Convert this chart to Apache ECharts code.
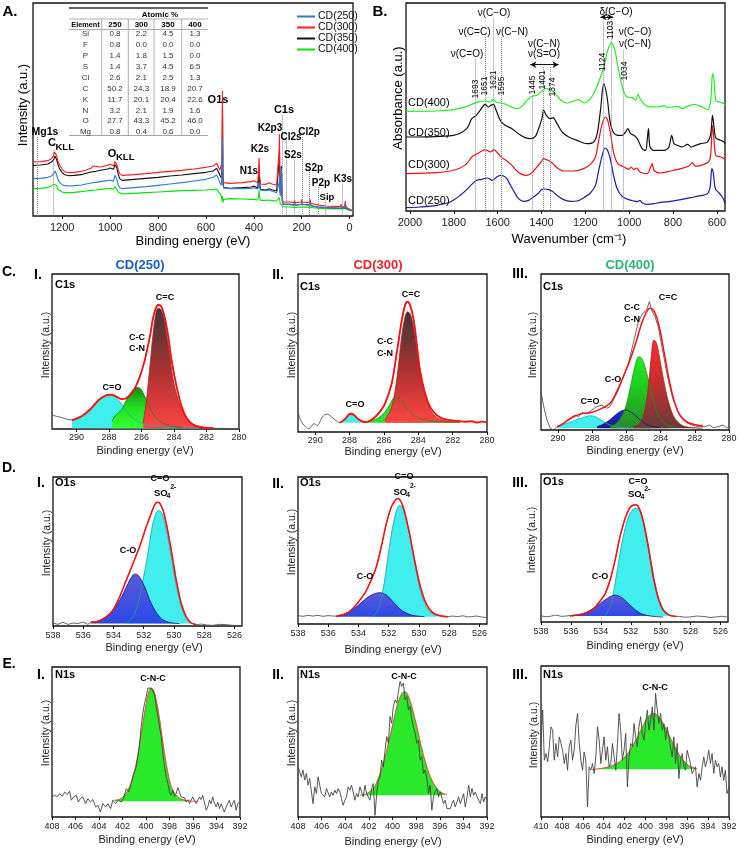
<!DOCTYPE html>
<html><head><meta charset="utf-8">
<script src="https://cdn.jsdelivr.net/npm/echarts@6/dist/echarts.min.js"></script>
<style>html,body{margin:0;padding:0;background:#fff}#c{width:739px;height:850px}</style>
</head><body><div id="c"></div>
<script>
// ================= DATA =================
// Panel A : XPS survey (binding energy eV, intensity a.u.)
const A_cd250 = [[1322,112],[1290,113],[1260,116],[1245,120],[1236,126],[1230,135],[1228,137],[1224,125],[1218,110],[1210,100],[1200,94],[1190,91],[1170,90],[1150,91],[1120,93],[1100,96],[1080,99],[1060,101],[1040,103],[1010,106],[1000,108],[992,110],[986,104],[980,122],[976,127],[972,110],[966,92],[960,85],[950,82],[900,85],[850,88],[800,92],[750,96],[700,100],[650,105],[600,110],[570,116],[562,120],[556,123],[550,115],[542,100],[536,92],[533,130],[531,232],[529,95],[526,85],[520,82],[500,82],[450,82],[410,83],[400,85],[396,87],[392,83],[384,81],[380,90],[378,102],[376,85],[372,78],[350,76],[335,78],[325,75],[305,70],[298,72],[294,100],[293,120],[292,90],[290,60],[287,75],[285,142],[284,120],[283,130],[281,45],[278,35],[270,34],[250,35],[232,33],[230,40],[228,33],[202,35],[200,42],[198,35],[168,33],[165,42],[162,31],[140,28],[132,30],[130,27],[100,25],[60,24],[40,23],[35,29],[33,23],[20,25],[18,38],[16,23],[8,21],[0,18],[-14,15]];
const A_cd300 = [[1322,162],[1290,163],[1260,166],[1245,172],[1236,180],[1232,192],[1228,196],[1224,182],[1218,165],[1210,152],[1200,140],[1190,133],[1170,130],[1150,131],[1120,134],[1100,138],[1080,143],[1072,150],[1066,144],[1040,147],[1010,152],[1000,155],[992,157],[986,151],[980,163],[976,168],[972,155],[966,138],[960,127],[950,122],[900,124],[850,127],[800,131],[750,134],[700,137],[650,141],[600,146],[570,150],[562,156],[556,158],[550,150],[542,138],[536,132],[533,160],[531,375],[529,130],[526,100],[520,97],[500,98],[450,100],[410,103],[400,106],[396,110],[392,104],[384,100],[380,140],[378,174],[376,120],[372,96],[350,95],[335,100],[325,96],[305,93],[298,96],[294,200],[293,245],[292,150],[290,80],[287,90],[285,120],[284,90],[281,55],[278,42],[270,41],[250,42],[232,40],[230,48],[228,40],[202,42],[200,50],[198,42],[168,40],[165,50],[162,38],[140,34],[132,36],[130,33],[100,30],[60,29],[40,28],[35,35],[33,28],[20,30],[18,45],[16,28],[8,25],[0,20],[-14,16]];
const A_cd350 = [[1322,152],[1290,153],[1260,156],[1245,162],[1236,168],[1230,180],[1228,182],[1224,170],[1218,155],[1210,140],[1200,130],[1190,124],[1170,121],[1150,122],[1120,124],[1100,128],[1080,132],[1060,134],[1040,137],[1010,141],[1000,144],[992,146],[986,140],[980,154],[976,158],[972,145],[966,125],[960,112],[950,107],[900,110],[850,113],[800,116],[750,120],[700,123],[650,127],[600,131],[570,135],[562,140],[556,143],[550,136],[542,122],[536,115],[533,140],[531,330],[529,110],[526,85],[520,82],[500,83],[450,85],[410,87],[400,90],[396,93],[392,88],[384,84],[380,110],[378,150],[376,100],[372,80],[350,78],[335,82],[325,79],[305,75],[298,77],[294,170],[293,200],[292,130],[290,70],[287,80],[285,150],[284,80],[281,45],[278,35],[270,34],[250,35],[232,33],[230,40],[228,33],[202,35],[200,42],[198,35],[168,33],[165,42],[162,31],[140,28],[132,30],[130,27],[100,25],[60,24],[40,23],[35,29],[33,23],[20,25],[18,38],[16,23],[8,21],[0,18],[-14,15]];
const A_cd400 = [[1322,82],[1290,83],[1260,86],[1245,90],[1236,95],[1230,100],[1228,101],[1224,92],[1218,80],[1210,74],[1200,72],[1190,70],[1170,70],[1150,71],[1120,73],[1100,75],[1080,77],[1060,78],[1040,80],[1010,82],[1000,83],[992,84],[986,80],[980,88],[976,90],[972,82],[966,72],[960,68],[950,66],[900,68],[850,70],[800,72],[750,74],[700,76],[650,77],[600,78],[570,80],[562,82],[556,81],[550,76],[542,68],[536,60],[533,45],[531,60],[529,40],[526,50],[520,53],[500,52],[450,51],[410,50],[400,50],[396,51],[392,49],[384,48],[380,60],[378,78],[376,55],[372,47],[350,47],[335,48],[325,46],[305,45],[298,45],[294,55],[293,60],[292,50],[290,38],[287,35],[285,42],[284,35],[281,30],[278,28],[270,27],[250,27],[232,26],[230,30],[228,26],[202,27],[200,32],[198,27],[168,26],[165,32],[162,25],[140,24],[132,25],[130,23],[100,22],[60,21],[40,21],[35,25],[33,21],[20,22],[18,30],[16,21],[8,19],[0,17],[-14,14]];
const A_ticks = [0,200,400,600,800,1000,1200];
// dotted peak marker lines [eV, top intensity]
const A_peakLines = [[1304,237],[1238,197],[283,302],[265,227],[231,167],[198,237],[167,132],[130,87],[102,47],[32,97]];
// atomic % table
const tblElements = ['Si','F','P','S','Cl','C','K','N','O','Mg'];
const tblHeads = ['250','300','350','400'];
const atomic250 = [0.8,0.8,1.4,1.4,2.6,50.2,11.7,3.2,27.7,0.8];
const atomic300 = [2.2,0.0,1.8,3.7,2.1,24.3,20.1,2.1,43.3,0.4];
const atomic350 = [4.5,0.0,1.5,4.5,2.5,18.9,20.4,1.9,45.2,0.6];
const atomic400 = [1.3,0.0,0.0,6.5,1.3,20.7,22.6,1.6,46.0,0.0];

// Panel B : FTIR (wavenumber, absorbance a.u.)
const B_cd250 = [[2018,10],[1954,12],[1878,17],[1817,27],[1771,47],[1741,64],[1718,80],[1695,92],[1672,95],[1649,99],[1637,97],[1627,92],[1616,95],[1604,102],[1588,107],[1573,105],[1558,97],[1543,79],[1524,57],[1505,37],[1482,29],[1459,32],[1436,42],[1413,54],[1398,65],[1383,66],[1367,64],[1352,60],[1329,47],[1299,34],[1268,29],[1238,30],[1207,40],[1177,54],[1154,77],[1139,122],[1123,167],[1111,189],[1101,185],[1088,162],[1073,112],[1055,67],[1032,44],[1002,34],[979,30],[963,28],[951,32],[941,25],[918,20],[887,22],[857,26],[811,29],[765,34],[720,40],[674,46],[643,52],[631,72],[623,127],[616,112],[607,67],[590,54],[575,42],[565,27],[563,22]];
const B_cd300 = [[2018,112],[1878,115],[1817,120],[1771,129],[1741,142],[1718,162],[1698,170],[1680,177],[1657,184],[1642,180],[1631,177],[1616,184],[1604,177],[1581,160],[1558,150],[1535,137],[1512,120],[1489,110],[1466,107],[1444,115],[1421,132],[1402,147],[1390,157],[1378,154],[1363,150],[1348,142],[1329,130],[1299,120],[1253,120],[1207,127],[1177,140],[1154,162],[1139,212],[1123,262],[1108,282],[1098,272],[1085,232],[1070,172],[1052,142],[1024,132],[1002,125],[991,132],[979,124],[966,129],[951,117],[918,112],[902,132],[895,142],[887,122],[857,114],[811,120],[765,127],[727,135],[712,145],[697,134],[659,140],[636,149],[628,172],[620,257],[613,212],[605,167],[582,162],[567,157],[563,154]];
const B_cd350 = [[2018,222],[1802,227],[1741,247],[1718,277],[1698,287],[1680,302],[1657,320],[1642,312],[1631,317],[1619,320],[1607,302],[1588,272],[1566,257],[1535,247],[1505,232],[1474,220],[1451,217],[1428,224],[1413,247],[1398,277],[1390,302],[1378,287],[1360,277],[1348,280],[1329,262],[1306,237],[1276,222],[1238,212],[1192,202],[1162,207],[1146,232],[1131,302],[1116,382],[1101,342],[1088,272],[1073,237],[1052,227],[1032,227],[1017,237],[1006,247],[994,232],[979,227],[963,217],[941,187],[925,182],[918,212],[912,247],[905,192],[887,182],[841,182],[819,192],[806,227],[796,202],[780,197],[758,192],[735,200],[716,192],[697,197],[674,202],[643,207],[628,232],[620,287],[613,252],[605,220],[582,212],[567,207],[563,202]];
const B_cd400 = [[2018,299],[1878,300],[1802,304],[1741,314],[1695,326],[1657,330],[1634,327],[1619,335],[1607,327],[1573,322],[1543,314],[1512,307],[1489,314],[1466,332],[1444,344],[1421,347],[1398,360],[1383,367],[1360,364],[1337,352],[1314,334],[1284,324],[1253,330],[1230,334],[1207,324],[1184,332],[1162,352],[1139,387],[1116,432],[1098,482],[1082,505],[1067,487],[1047,417],[1027,362],[1009,342],[986,340],[971,332],[959,350],[951,337],[918,314],[872,312],[841,316],[826,310],[803,312],[780,314],[758,307],[735,314],[704,320],[674,314],[643,304],[628,332],[620,412],[613,392],[605,332],[590,327],[567,322],[563,317]];
const B_ticks = [600,800,1000,1200,1400,1600,1800,2000];
// dotted band lines [wavenumber position, top absorbance]
const B_lines = [[1701,457],[1657,522],[1619,577],[1584,522],[1441,347],[1393,432],[1360,432],[1119,575],[1082,575],[1029,482]];
const B_lineLabels = ['1693','1651','1621','1595','1445','1401','1374','1124','1103','1034'];
// double arrows [from, to, level]
const B_arrows = [[1451,1322,439],[1131,1073,582]];

// Panel C : C1s high resolution (eV, intensity)
const C_ticks = [290,288,286,284,282,280];
const C1_raw = [[291.5,9.2],[291.23,8.2],[290.93,7.5],[290.62,6.4],[290.27,5.8],[289.69,8.0],[289.18,12.6],[288.56,19.0],[287.95,22.3],[287.64,21.2],[287.23,19.6],[286.92,19.8],[286.51,24.5],[286.10,33.5],[285.79,44.9],[285.48,59.4],[285.24,74.0],[284.97,80.5],[284.77,78.6],[284.56,71.8],[284.35,59.2],[284.15,45.0],[283.84,27.2],[283.53,14.9],[283.22,6.8],[282.81,3.0],[282.20,1.0],[281.58,0.5],[281.0,0.4],[280.5,0.3],[280.0,0.3]];
const C1_env = [[290.27,5.6],[289.69,8.2],[289.18,12.4],[288.56,19.3],[287.95,22.1],[287.64,21.5],[287.23,19.3],[286.92,20.0],[286.51,24.2],[286.10,33.9],[285.79,44.6],[285.48,59.7],[285.24,73.6],[284.97,80.0],[284.77,79.0],[284.56,71.5],[284.35,59.7],[284.15,44.6],[283.84,27.5],[283.53,14.6],[283.22,7.1],[282.81,2.8],[282.20,1.1],[281.58,0.6]];
const C1_CO = [[290.27,5.6],[289.69,7.7],[289.18,11.4],[288.67,17.8],[288.26,21.5],[287.95,22.3],[287.64,21.0],[287.23,16.3],[286.82,10.3],[286.41,6.0],[285.89,3.4],[285.28,2.1],[284.05,1.1],[282.40,0.5]];
const C1_CN = [[287.8,5.0],[287.64,8.2],[287.23,12.4],[286.92,18.9],[286.61,24.2],[286.30,26.8],[286.10,26.4],[285.79,21.0],[285.48,13.5],[285.18,8.2],[284.87,4.9],[284.46,2.8],[284.05,1.7],[283.5,0.8]];
const C1_CC = [[285.89,3.9],[285.69,18.9],[285.48,40.3],[285.28,61.8],[285.07,76.8],[284.91,77.9],[284.66,73.6],[284.46,61.8],[284.25,46.8],[284.05,31.8],[283.74,18.9],[283.43,10.3],[283.02,3.9],[282.40,1.1],[281.58,0.5]];

const C2_raw = [[291.0,12.7],[290.84,7.4],[290.65,4.2],[290.36,2.1],[290.07,5.3],[289.87,4.2],[289.58,9.5],[289.30,11.4],[289.10,10.0],[288.81,7.4],[288.57,5.9],[288.27,8.5],[288.08,11.0],[287.92,11.8],[287.73,10.5],[287.50,8.0],[287.20,6.3],[287.01,6.5],[286.62,8.2],[286.33,11.0],[285.94,17.5],[285.55,30.0],[285.26,49.0],[284.96,70.0],[284.77,79.5],[284.63,82.0],[284.48,80.0],[284.28,71.0],[284.09,55.5],[283.90,39.0],[283.60,24.0],[283.31,16.0],[282.92,10.5],[282.43,8.2],[281.65,6.8]];
const C2_env = [[288.57,5.9],[288.27,8.0],[288.08,10.6],[287.92,11.4],[287.73,10.8],[287.50,8.2],[287.20,6.5],[287.01,6.3],[286.62,8.5],[286.33,11.6],[285.94,18.0],[285.55,30.7],[285.26,49.7],[284.96,70.8],[284.77,80.3],[284.63,82.5],[284.48,80.3],[284.28,71.9],[284.09,56.0],[283.90,39.1],[283.60,24.3],[283.31,15.9],[282.92,10.6],[282.43,8.0],[281.65,7.0],[281.30,6.5],[280.88,6.8],[280.60,6.0],[280.30,6.6],[280.0,6.3]];
const C2_CO = [[288.57,5.9],[288.27,8.5],[288.08,11.2],[287.92,12.1],[287.73,11.0],[287.50,8.5],[287.20,6.3],[287.01,5.9]];
const C2_CN = [[287.20,5.9],[286.62,7.4],[286.13,10.6],[285.74,15.9],[285.35,21.8],[285.06,21.1],[284.77,16.9],[284.38,11.6],[283.89,8.5],[283.21,7.0],[282.43,6.3],[281.56,5.9]];
const C2_CC = [[285.94,7.4],[285.55,15.9],[285.26,32.8],[284.97,60.3],[284.77,72.9],[284.62,76.1],[284.44,74.0],[284.25,64.5],[284.05,49.7],[283.80,32.8],[283.51,20.1],[283.22,12.7],[282.83,8.5],[282.25,6.8],[281.56,6.3]];

const C3_raw = [[291.00,24.6],[290.84,15.0],[290.65,6.4],[290.46,1.1],[290.26,0.0],[290.07,2.1],[289.87,2.6],[289.58,5.3],[289.29,7.5],[289.00,9.6],[288.80,8.5],[288.61,11.1],[288.32,10.3],[288.03,12.8],[287.73,15.0],[287.44,16.0],[287.15,13.9],[286.96,15.0],[286.76,19.2],[286.47,25.6],[286.18,34.2],[285.89,42.7],[285.60,55.6],[285.31,69.4],[285.05,74.8],[284.82,76.9],[284.66,82.3],[284.53,76.9],[284.33,72.6],[284.14,66.2],[283.85,49.1],[283.56,32.1],[283.26,19.2],[282.88,9.6],[282.49,4.7],[282.10,2.8],[281.71,2.1],[281.42,2.1],[281.13,3.2],[280.93,1.5],[280.64,2.1],[280.35,3.2],[280.15,1.5],[280.00,2.1]];
const C3_env = [[290.07,2.1],[289.68,4.3],[289.10,8.5],[288.51,10.7],[288.12,11.1],[287.73,12.4],[287.35,14.3],[286.96,17.1],[286.57,24.6],[286.18,34.2],[285.79,44.9],[285.40,57.7],[285.11,68.4],[284.82,75.9],[284.62,78.0],[284.43,76.9],[284.24,72.6],[284.04,64.1],[283.75,47.0],[283.46,29.9],[283.17,17.1],[282.88,9.6],[282.49,5.3],[281.90,3.2],[281.52,2.6]];
const C3_CO = [[290.07,2.1],[289.48,4.3],[288.90,6.8],[288.41,8.5],[288.12,9.2],[287.73,8.1],[287.35,5.3],[286.96,3.2],[286.37,1.7],[285.60,1.1]];
const C3_COs = [[287.73,2.1],[287.25,4.3],[286.76,8.5],[286.37,11.8],[286.08,12.8],[285.79,11.8],[285.40,8.5],[285.01,4.7],[284.62,2.6],[284.04,1.5]];
const C3_CN = [[286.96,2.1],[286.57,4.3],[286.18,10.7],[285.89,21.4],[285.60,36.3],[285.40,44.9],[285.27,47.0],[285.11,45.9],[284.92,40.6],[284.62,27.8],[284.33,15.0],[284.04,7.5],[283.65,3.2],[283.07,1.5]];
const C3_CC = [[285.60,2.1],[285.21,4.3],[284.92,12.8],[284.72,27.8],[284.53,49.1],[284.39,57.7],[284.24,55.6],[284.04,44.9],[283.75,27.8],[283.46,15.0],[283.17,7.5],[282.78,3.2],[282.29,1.7],[281.52,1.1]];

// Panel D : O1s
const D_ticks = [538,536,534,532,530,528,526];
const D1_raw = [[538.00,2.0],[537.67,1.1],[537.34,2.5],[537.01,1.1],[536.68,2.0],[536.35,1.6],[536.02,2.7],[535.69,1.1],[535.47,2.7],[534.92,3.4],[534.48,6.1],[534.04,10.6],[533.59,19.6],[533.15,30.8],[532.71,42.0],[532.27,53.3],[531.83,66.7],[531.50,75.7],[531.28,81.3],[531.13,83.1],[530.95,82.5],[530.73,78.0],[530.51,69.0],[530.18,51.0],[529.85,30.8],[529.52,15.1],[529.19,6.1],[528.86,2.0],[528.53,0.9],[528.2,1.3],[527.8,0.6],[527.43,0.4],[527.0,1.1],[526.55,0.9],[526.1,0.4],[525.51,0.4]];
const D1_env = [[535.47,2.7],[534.92,3.4],[534.48,6.1],[534.04,10.6],[533.59,19.6],[533.15,30.8],[532.71,42.0],[532.27,53.3],[531.83,66.7],[531.50,75.7],[531.28,81.3],[531.13,83.1],[530.95,82.5],[530.73,78.0],[530.51,69.0],[530.18,51.0],[529.85,30.8],[529.52,15.1],[529.19,6.1],[528.86,2.0],[528.53,0.9]];
const D1_CO = [[533.15,2.0],[532.71,6.1],[532.38,15.1],[532.05,30.8],[531.72,48.8],[531.44,66.7],[531.17,76.2],[531.00,77.5],[530.80,75.7],[530.58,67.9],[530.29,53.3],[529.96,33.0],[529.63,17.3],[529.30,7.2],[528.97,2.7],[528.53,1.1]];
const D1_Cs = [[535.47,2.0],[534.92,3.8],[534.26,8.3],[533.59,17.3],[533.04,28.5],[532.71,34.2],[532.54,34.8],[532.32,33.5],[531.94,26.3],[531.50,15.1],[530.95,6.1],[530.40,2.7],[529.63,1.6]];

const D2_raw = [[538.00,5.7],[537.67,5.2],[537.34,5.9],[537.01,5.4],[536.68,5.9],[536.35,5.2],[536.02,5.7],[535.69,5.4],[535.47,5.4],[534.92,6.8],[534.48,9.3],[534.04,14.8],[533.59,20.5],[533.15,30.2],[532.82,38.6],[532.49,52.8],[532.16,68.0],[531.83,79.9],[531.57,84.0],[531.39,85.6],[531.17,82.7],[530.95,76.5],[530.62,61.2],[530.29,43.7],[529.96,27.3],[529.63,16.6],[529.30,9.8],[528.97,7.0],[528.53,5.4],[528.09,5.0],[527.76,5.4],[527.43,5.0],[527.1,5.6],[526.77,4.8],[526.55,5.0],[526.2,5.4],[525.85,4.7],[525.51,4.5]];
const D2_env = [[535.47,5.4],[534.92,6.6],[534.48,9.5],[534.04,14.5],[533.59,20.8],[533.15,29.9],[532.82,38.9],[532.49,52.5],[532.16,68.3],[531.83,79.6],[531.57,84.2],[531.39,85.3],[531.17,83.0],[530.95,76.2],[530.62,61.5],[530.29,43.4],[529.96,27.6],[529.63,16.3],[529.30,10.0],[528.97,6.8],[528.53,5.4],[528.09,5.0]];
const D2_CO = [[533.04,5.4],[532.71,9.5],[532.38,23.1],[532.05,45.7],[531.72,67.2],[531.44,78.5],[531.28,80.8],[531.06,78.5],[530.73,66.1],[530.40,48.0],[530.07,29.9],[529.74,17.4],[529.41,10.0],[528.97,6.6],[528.53,5.4]];
const D2_Cs = [[535.47,5.0],[534.92,6.8],[534.26,10.6],[533.70,15.6],[533.15,19.7],[532.60,21.3],[532.16,19.7],[531.72,15.2],[531.17,9.5],[530.51,6.1],[529.63,5.0]];

const D3_raw = [[538.00,4.1],[537.67,3.6],[537.38,3.8],[537.10,4.6],[536.93,4.5],[536.60,3.8],[536.27,4.1],[535.94,4.5],[535.38,5.2],[534.94,6.3],[534.49,8.8],[534.05,14.3],[533.71,19.0],[533.38,28.5],[533.05,41.5],[532.72,57.9],[532.38,69.7],[532.09,77.0],[531.83,78.7],[531.61,79.3],[531.38,75.3],[531.16,68.0],[530.83,50.5],[530.50,30.8],[530.16,15.5],[529.83,8.1],[529.39,4.3],[528.94,3.8],[528.72,3.8],[528.40,3.2],[528.05,3.4],[527.60,4.0],[527.17,3.8],[526.70,3.1],[526.28,3.4],[525.90,3.9],[525.50,3.2]];
const D3_env = [[536.05,4.1],[535.38,5.0],[534.94,6.1],[534.49,9.0],[534.05,14.0],[533.71,19.2],[533.38,28.2],[533.05,41.8],[532.72,57.6],[532.38,70.0],[532.09,76.7],[531.83,79.0],[531.61,79.0],[531.38,75.6],[531.16,67.7],[530.83,50.8],[530.50,30.5],[530.16,15.8],[529.83,7.9],[529.39,4.5],[528.94,3.8]];
const D3_CO = [[533.71,4.5],[533.38,10.2],[533.05,26.0],[532.72,46.3],[532.38,63.2],[532.05,73.4],[531.72,76.7],[531.49,76.3],[531.27,72.2],[530.94,58.7],[530.61,39.5],[530.27,21.4],[529.94,11.3],[529.61,6.1],[529.16,4.1]];
const D3_Cs = [[536.05,4.1],[535.38,5.0],[534.71,7.9],[534.05,12.4],[533.49,16.5],[533.05,18.1],[532.60,16.5],[532.05,11.3],[531.38,6.1],[530.72,4.1],[529.83,3.4]];

// Panel E : N1s
const E_ticks = [408,406,404,402,400,398,396,394,392];
const E3_ticks = [410,408,406,404,402,400,398,396,394,392];
const E1_raw = [[408.00,13.4],[407.77,14.5],[407.58,13.4],[407.35,15.6],[407.12,13.8],[406.92,16.7],[406.73,15.0],[406.50,17.2],[406.36,11.2],[406.16,13.4],[405.93,14.5],[405.76,10.0],[405.59,12.3],[405.37,13.4],[405.14,8.9],[404.94,12.3],[404.74,10.0],[404.52,11.6],[404.29,6.7],[404.09,7.8],[403.89,3.3],[403.67,8.9],[403.44,6.7],[403.24,8.9],[403.01,5.6],[402.82,11.2],[402.59,8.9],[402.36,11.2],[402.11,10.0],[401.91,12.3],[401.68,19.0],[401.48,16.7],[401.26,22.3],[401.12,26.8],[400.97,27.9],[400.83,33.5],[400.69,40.2],[400.55,49.1],[400.41,60.3],[400.27,69.2],[400.12,75.9],[399.98,80.4],[399.84,85.9],[399.70,87.1],[399.56,85.9],[399.42,83.7],[399.27,81.5],[399.13,73.7],[398.99,67.0],[398.85,60.3],[398.71,53.6],[398.57,42.4],[398.42,33.5],[398.28,26.8],[398.14,22.3],[398.00,16.7],[397.86,14.5],[397.72,17.9],[397.58,13.8],[397.43,15.6],[397.29,19.6],[397.15,16.7],[397.01,13.4],[396.87,14.5],[396.73,12.9],[396.58,10.0],[396.44,11.6],[396.30,8.9],[396.16,10.0],[396.02,13.4],[395.88,11.2],[395.73,8.9],[395.59,7.8],[395.45,13.4],[395.31,11.6],[395.17,14.5],[395.03,10.0],[394.88,4.5],[394.74,6.7],[394.60,11.2],[394.46,8.9],[394.32,13.4],[394.18,9.4],[394.03,6.7],[393.89,10.0],[393.75,5.6],[393.61,8.9],[393.47,7.8],[393.33,3.3],[393.18,6.7],[393.04,5.6],[392.90,11.2],[392.76,6.7],[392.62,7.8],[392.48,11.2],[392.33,4.5],[392.19,8.9],[392.00,10.0]];
const E1_fit = [[402.67,11.2],[402.25,11.8],[401.82,14.5],[401.40,20.1],[401.12,26.8],[400.83,35.7],[400.55,48.0],[400.27,62.5],[399.98,75.9],[399.76,83.7],[399.56,85.9],[399.36,84.8],[399.13,78.1],[398.85,65.8],[398.57,50.2],[398.28,35.7],[398.00,24.6],[397.72,17.9],[397.29,13.4],[396.87,11.6],[396.30,10.7],[395.59,10.5]];
const E2_eV = [408.00,407.86,407.72,407.58,407.43,407.29,407.15,407.01,406.87,406.73,406.58,406.44,406.30,406.16,406.02,405.88,405.73,405.59,405.45,405.31,405.17,405.03,404.88,404.74,404.60,404.46,404.32,404.18,404.03,403.89,403.75,403.61,403.47,403.33,403.18,403.04,402.90,402.76,402.62,402.48,402.33,402.19,402.05,401.91,401.77,401.63,401.48,401.34,401.20,401.06,400.92,400.78,400.63,400.49,400.35,400.21,400.07,399.93,399.78,399.64,399.50,399.36,399.22,399.08,398.93,398.79,398.65,398.51,398.37,398.23,398.08,397.94,397.80,397.66,397.52,397.38,397.24,397.09,396.95,396.81,396.67,396.53,396.39,396.24,396.10,395.96,395.82,395.68,395.54,395.39,395.25,395.11,394.97,394.83,394.69,394.54,394.40,394.26,394.12,393.98,393.84,393.69,393.55,393.41,393.27,393.13,392.99,392.84,392.70,392.56,392.42,392.28,392.14,392.00];
const E2_I = [33.5,30.1,26.8,31.3,24.6,29.0,21.2,25.7,24.6,8.9,20.1,15.6,26.8,25.7,15.6,16.7,13.4,19.0,17.9,13.4,16.7,14.5,17.9,15.6,19.0,16.7,12.3,7.8,11.2,13.4,20.1,17.9,21.2,16.7,11.2,15.6,13.4,20.1,16.7,13.4,21.2,15.6,16.7,11.2,19.0,22.3,1.1,15.6,24.6,26.8,37.9,33.5,44.6,53.6,49.1,67.0,62.5,73.7,78.1,75.9,83.7,90.4,87.1,89.3,78.1,80.4,71.4,73.7,64.7,60.3,55.8,49.1,51.3,37.9,40.2,29.0,31.3,25.7,15.6,21.2,4.5,13.4,16.7,19.0,13.4,16.7,15.6,8.9,11.2,5.6,4.5,5.6,8.9,11.2,6.7,10.0,13.4,8.9,10.0,15.6,6.7,13.4,21.2,13.4,19.0,14.5,16.7,13.4,12.3,8.9,15.6,10.0,13.4,11.2];
const E2_fit = [[402.76,14.5],[402.19,15.6],[401.63,19.0],[401.20,25.7],[400.78,35.7],[400.35,49.1],[399.93,63.6],[399.56,75.9],[399.22,82.1],[398.99,83.7],[398.74,82.1],[398.37,73.7],[397.94,60.3],[397.52,45.8],[397.09,33.5],[396.67,24.6],[396.24,19.0],[395.82,16.1],[395.39,15.0]];
const E3_eV = [410.00,409.84,409.68,409.52,409.36,409.20,409.05,408.89,408.73,408.57,408.41,408.25,408.09,407.93,407.77,407.61,407.46,407.30,407.14,406.98,406.82,406.66,406.50,406.34,406.18,406.02,405.87,405.71,405.55,405.39,405.23,405.07,404.91,404.75,404.59,404.43,404.27,404.12,403.96,403.80,403.64,403.48,403.32,403.16,403.00,402.84,402.68,402.53,402.37,402.21,402.05,401.89,401.73,401.57,401.41,401.25,401.09,400.94,400.78,400.62,400.46,400.30,400.14,399.98,399.82,399.66,399.50,399.34,399.19,399.03,398.87,398.71,398.55,398.39,398.23,398.07,397.91,397.75,397.60,397.44,397.28,397.12,396.96,396.80,396.64,396.48,396.32,396.16,396.01,395.85,395.69,395.53,395.37,395.21,395.05,394.89,394.73,394.57,394.41,394.26,394.10,393.94,393.78,393.62,393.46,393.30,393.14,392.98,392.82,392.67,392.51,392.35,392.19,392.00];
const E3_I = [48.7,70.8,37.6,42.0,36.5,46.5,59.7,57.5,37.6,48.7,39.8,53.1,48.7,44.2,35.4,42.0,31.0,46.5,50.9,37.6,44.2,60.8,68.6,48.7,37.6,31.0,43.1,37.6,6.6,33.2,31.0,35.4,28.8,39.8,59.7,50.9,35.4,44.2,53.1,37.6,46.5,33.2,35.4,48.7,39.8,31.0,48.7,68.6,57.5,37.6,44.2,55.3,19.9,39.8,48.7,46.5,61.9,53.1,46.5,59.7,66.4,55.3,50.9,61.9,70.8,57.5,64.2,73.0,57.5,81.9,70.8,61.9,68.6,57.5,61.9,50.9,59.7,53.1,46.5,39.8,53.1,35.4,48.7,25.4,37.6,42.0,33.2,31.0,44.2,39.8,35.4,28.8,31.0,33.2,19.9,28.8,24.3,33.2,39.8,33.2,37.6,44.2,35.4,42.0,28.8,37.6,33.2,35.4,26.5,33.2,24.3,31.0,15.5,19.9];
const E3_fit = [[405.13,31.4],[404.34,32.1],[403.54,33.2],[402.75,35.4],[402.11,38.7],[401.48,44.2],[400.84,52.0],[400.20,60.8],[399.73,66.4],[399.19,68.6],[398.77,66.8],[398.30,61.9],[397.66,53.1],[397.02,44.2],[396.39,37.6],[395.75,33.6],[395.05,32.1]];

// ================= BUILD =================
const FONT = "'Liberation Sans', Arial, sans-serif";
const pairs = (xs, ys) => xs.map((x, i) => [x, ys[i]]);
const grids = [], xAxes = [], yAxes = [], series = [], G = [];

function panel(box, xr, yr, ticks, fs, margin) {
  const i = grids.length;
  grids.push({left: box[0], top: box[1], width: box[2], height: box[3], show: true,
    borderColor: '#111', borderWidth: 1.3, backgroundColor: 'rgba(0,0,0,0)', outerBoundsMode: 'none', containLabel: false});
  xAxes.push({gridIndex: i, type: 'value', min: xr[0], max: xr[1], inverse: true,
    axisLine: {show: false}, splitLine: {show: false},
    axisTick: {show: true, inside: false, length: 3, customValues: ticks, lineStyle: {color: '#111', width: 1}},
    axisLabel: {show: true, customValues: ticks, fontSize: fs, color: '#222', margin: margin, fontFamily: FONT,
      formatter: v => String(v), hideOverlap: false, showMinLabel: true, showMaxLabel: true}});
  yAxes.push({gridIndex: i, type: 'value', min: yr[0], max: yr[1],
    axisLine: {show: false}, axisTick: {show: false}, axisLabel: {show: false}, splitLine: {show: false}});
  return i;
}
function line(i, data, color, width, extra) {
  series.push(Object.assign({type: 'line', xAxisIndex: i, yAxisIndex: i, data: data, symbol: 'none', showSymbol: false,
    lineStyle: {color: color, width: width}, itemStyle: {color: color}, animation: false, silent: true}, extra || {}));
}
function area(i, data, fill, edge, origin, smooth) {
  line(i, data, edge, 0.8, {smooth: smooth === undefined ? 0.35 : smooth, areaStyle: {color: fill, opacity: 1, origin: origin}});
}
const grad = (stops) => new echarts.graphic.LinearGradient(0, 0, 0, 1, stops.map((c, k) => ({offset: k / (stops.length - 1), color: c})));

function T(x, y, text, size, o) {
  o = o || {};
  G.push({type: 'text', x: x, y: y, rotation: o.rot || 0, silent: true, z: 100,
    style: {text: text, fontSize: size, fontFamily: FONT, fontWeight: o.bold ? 'bold' : 'normal', fill: o.color || '#000',
      align: o.align || 'center', verticalAlign: 'middle', textAlign: o.align || 'center', textVerticalAlign: 'middle'}});
}
function L(x1, y1, x2, y2, color, w) {
  G.push({type: 'line', silent: true, z: 100, shape: {x1: x1, y1: y1, x2: x2, y2: y2}, style: {stroke: color, lineWidth: w}});
}

// ---- Panel A
const iA = panel([33, 3, 320, 213], [-14, 1322], [0, 639], A_ticks, 11, 6);
line(iA, A_cd400, '#00e600', 1.1, {name: 'CD(400)', markLine: {silent: true, symbol: ['none', 'none'], label: {show: false},
  lineStyle: {type: 'dotted', color: '#8a8a8a', width: 1}, animation: false,
  data: A_peakLines.map(p => [{coord: [p[0], p[1]]}, {coord: [p[0], 0]}])}});
line(iA, A_cd350, '#111111', 1.1, {name: 'CD(350)'});
line(iA, A_cd300, '#ff1a1a', 1.1, {name: 'CD(300)'});
line(iA, A_cd250, '#2b7bd6', 1.1, {name: 'CD(250)'});

// ---- Panel B
const iB = panel([406, 3, 319, 208], [563, 2018], [0, 624], B_ticks, 11, 6);
line(iB, B_cd250, '#1a1aa8', 1.2, {name: 'B250', smooth: 0.3, markLine: {silent: true, symbol: ['none', 'none'], label: {show: false},
  lineStyle: {type: 'dotted', color: '#8a8aa8', width: 1}, animation: false,
  data: B_lines.map(p => [{coord: [p[0], p[1]]}, {coord: [p[0], 0]}])}});
line(iB, B_cd300, '#ee1111', 1.2, {name: 'B300', smooth: 0.3});
line(iB, B_cd350, '#111111', 1.2, {name: 'B350', smooth: 0.3});
line(iB, B_cd400, '#22ee22', 1.2, {name: 'B400', smooth: 0.3, markLine: {silent: true, symbol: ['arrow', 'arrow'], symbolSize: [5, 6], label: {show: false},
  lineStyle: {type: 'solid', color: '#111', width: 1}, animation: false,
  data: B_arrows.map(a => [{coord: [a[0], a[2]]}, {coord: [a[1], a[2]]}])}});

// ---- Panel C
const redGrad = () => grad(['#3a3a3a', '#a83030', '#ff4444']);
const greenGrad = () => grad(['#168a16', '#22e022', '#33ff33']);
const iC1 = panel([52, 274, 187, 155], [280, 291.5], [0, 100], C_ticks, 9, 4);
area(iC1, C1_CO, '#40eeee', '#20b0b0', 0.5);
area(iC1, C1_CN, greenGrad(), '#118811', 0.5);
area(iC1, C1_CC, redGrad(), '#aa2222', 0.5);
line(iC1, C1_raw, '#555', 0.9, {smooth: 0.3});
line(iC1, C1_env, '#ff1010', 1.8, {smooth: 0.35});

const iC2 = panel([298, 274, 189, 158], [280, 291], [0, 100], C_ticks, 9, 4);
area(iC2, C2_CO, '#40eeee', '#20b0b0', 5.9);
area(iC2, C2_CN, '#2ae02a', '#119911', 5.9);
area(iC2, C2_CC, redGrad(), '#aa2222', 5.9);
line(iC2, C2_raw, '#555', 0.9, {smooth: 0.3});
line(iC2, C2_env, '#ff1010', 1.8, {smooth: 0.35});

const iC3 = panel([541, 274, 188, 156], [280, 291], [0, 100], C_ticks, 9, 4);
area(iC3, C3_CO, '#40eeee', '#20b0b0', 1.1);
area(iC3, C3_COs, grad(['#2a2ad8', '#1a1a90']), '#101080', 1.1);
area(iC3, C3_CN, grad(['#22ee22', '#1fc41f', '#2a8a2a']), '#119911', 1.1);
area(iC3, C3_CC, grad(['#ff2a2a', '#c03030', '#6a3a3a']), '#aa2222', 1.1);
line(iC3, C3_raw, '#555', 0.9, {smooth: false});
line(iC3, C3_env, '#ff1010', 1.5, {smooth: 0.35});

// ---- Panel D
const blueGrad = () => grad(['#5a5ad8', '#2a48e8']);
const iD1 = panel([53, 477, 189, 149], [525.5, 538], [0, 100], D_ticks, 9, 5);
area(iD1, D1_CO, '#40eeee', '#20a0a0', 1.6);
area(iD1, D1_Cs, blueGrad(), '#101080', 1.6);
line(iD1, D1_raw, '#555', 0.9, {smooth: false});
line(iD1, D1_env, '#ff1010', 1.5, {smooth: 0.35});

const iD2 = panel([298, 477, 189, 147], [525.5, 538], [0, 100], D_ticks, 9, 5);
area(iD2, D2_CO, '#40eeee', '#20a0a0', 5);
area(iD2, D2_Cs, blueGrad(), '#101080', 5);
line(iD2, D2_raw, '#555', 0.9, {smooth: false});
line(iD2, D2_env, '#ff1010', 1.5, {smooth: 0.35});

const iD3 = panel([541, 474, 187, 148], [525.5, 538], [0, 100], D_ticks, 9, 5);
area(iD3, D3_CO, '#40eeee', '#20a0a0', 4);
area(iD3, D3_Cs, blueGrad(), '#101080', 4);
line(iD3, D3_raw, '#555', 0.9, {smooth: false});
line(iD3, D3_env, '#ff1010', 1.5, {smooth: 0.35});

// ---- Panel E
const iE1 = panel([52, 667, 188, 150], [392, 408], [0, 100], E_ticks, 9, 5);
area(iE1, E1_fit, '#2ae82a', '#ff2020', 10.5);
line(iE1, E1_raw, '#444', 0.9, {smooth: false});
const iE2 = panel([298, 667, 189, 150], [392, 408], [0, 100], E_ticks, 9, 5);
area(iE2, E2_fit, '#2ae82a', '#ff2020', 14.5);
line(iE2, pairs(E2_eV, E2_I), '#444', 0.9, {smooth: false});
const iE3 = panel([541, 666, 188, 151], [392, 410], [0, 100], E3_ticks, 9, 5);
area(iE3, E3_fit, '#2ae82a', '#ff2020', 31.6);
line(iE3, pairs(E3_eV, E3_I), '#444', 0.9, {smooth: false});

// ================= TEXT =================
// panel letters
T(10, 12, 'A.', 15, {bold: true}); T(380, 12, 'B.', 15, {bold: true});
T(9, 272, 'C.', 14, {bold: true}); T(9, 468, 'D.', 14, {bold: true}); T(9, 664, 'E.', 14, {bold: true});
// A axis titles
T(23, 105, 'Intensity (a.u.)', 13, {rot: Math.PI / 2});
T(193, 241, 'Binding energy (eV)', 13);
// A peak labels
T(45, 132, 'Mg1s', 10.5, {bold: true});
T(52, 143, 'C', 11, {bold: true}); T(55.5, 147, 'KLL', 9.5, {bold: true, align: 'left'});
T(112, 154, 'O', 11, {bold: true}); T(116, 157.5, 'KLL', 9.5, {bold: true, align: 'left'});
T(218, 100, 'O1s', 11, {bold: true});
T(284, 110, 'C1s', 11, {bold: true});
T(270, 128, 'K2p3', 10, {bold: true});
T(260, 149, 'K2s', 10, {bold: true});
T(291, 137, 'Cl2s', 10, {bold: true});
T(309, 132, 'Cl2p', 10, {bold: true});
T(293, 155, 'S2s', 10, {bold: true});
T(314, 168, 'S2p', 10, {bold: true});
T(249, 171, 'N1s', 10, {bold: true});
T(321, 183, 'P2p', 10, {bold: true});
T(327, 197, 'Sip', 9.5, {bold: true});
T(343, 179, 'K3s', 10, {bold: true});
// A table
L(69, 8, 208, 8, '#333', 1.4);
T(160, 14.5, 'Atomic %', 8, {bold: true});
L(69, 19, 208, 19, '#999', 0.8);
T(85.5, 25, 'Element', 7.3, {bold: true});
const colX = [115, 141.3, 168, 195];
tblHeads.forEach((h, k) => T(colX[k], 25, h, 8, {bold: true}));
L(69, 29.5, 208, 29.5, '#999', 0.8);
[101.7, 128.3, 154, 181.7].forEach(x => L(x, 19, x, 135.5, '#999', 0.8));
L(69, 135.5, 208, 135.5, '#999', 0.9);
const tblCols = [atomic250, atomic300, atomic350, atomic400];
tblElements.forEach((e, r) => {
  const y = 34 + r * 10.9;
  T(85.5, y, e, 8, {color: '#333'});
  tblCols.forEach((col, k) => T(colX[k], y, col[r].toFixed(1), 8, {color: '#333'}));
});

// B axis titles, labels
T(398, 98, 'Absorbance (a.u.)', 13, {rot: Math.PI / 2});
T(569, 239, 'Wavenumber (cm\u207B\u00B9)', 13);
T(408, 103, 'CD(400)', 11, {align: 'left'});
T(408, 133, 'CD(350)', 11, {align: 'left'});
T(408, 165, 'CD(300)', 11, {align: 'left'});
T(408, 201, 'CD(250)', 11, {align: 'left'});
T(467, 54, '\u03BD(C=O)', 10);
T(474.5, 32, '\u03BD(C=C)', 10);
T(494, 13, '\u03BD(C\u2212O)', 10);
T(512, 32, '\u03BD(C\u2212N)', 10);
T(544, 44, '\u03BD(C\u2212N)', 10);
T(544, 54.5, '\u03BD(S=O)', 10);
T(616, 12, '\u03B4(C\u2212O)', 10);
T(635, 32, '\u03BD(C\u2212O)', 10);
T(635, 44, '\u03BD(C\u2212N)', 10);
const B_labelPos = [[475.3, 89], [485, 86], [494, 80], [502, 86], [532.3, 85], [542.7, 80], [552.3, 87], [602.3, 62], [611, 30], [624.3, 71]];
B_lineLabels.forEach((s, k) => T(B_labelPos[k][0], B_labelPos[k][1], s, 8.5, {rot: Math.PI / 2}));

// C row
T(140, 265, 'CD(250)', 13, {bold: true, color: '#1a5fc4'});
T(378, 265, 'CD(300)', 13, {bold: true, color: '#e4262c'});
T(630, 265, 'CD(400)', 13, {bold: true, color: '#2bb673'});
[[38, 275, 'I.'], [278, 275, 'II.'], [520, 274, 'III.'], [41, 483, 'I.'], [278, 484, 'II.'], [520, 483, 'III.'], [41, 675, 'I.'], [278, 675, 'II.'], [520, 675, 'III.']]
  .forEach(r => T(r[0], r[1], r[2], 14, {bold: true}));
[[55, 285, 'C1s'], [300, 287, 'C1s'], [543, 287, 'C1s'], [55, 483, 'O1s'], [300, 483, 'O1s'], [543, 482, 'O1s'], [55, 675, 'N1s'], [300, 675, 'N1s'], [543, 675, 'N1s']]
  .forEach(r => T(r[0], r[1], r[2], 11, {bold: true, align: 'left'}));
// y titles
[[46, 345], [292, 345], [533, 345], [47, 543], [292, 542], [532, 540], [46, 733], [292, 733], [534, 735]]
  .forEach(p => T(p[0], p[1], 'Intensity (a.u.)', 10.5, {rot: Math.PI / 2, color: '#222'}));
// x titles
[[145, 451], [393, 452], [635, 451], [154, 648], [393, 650], [635, 646], [147, 840], [393, 842], [635, 840]]
  .forEach(p => T(p[0], p[1], 'Binding energy (eV)', 11, {color: '#222'}));
// C peak labels
const pk = (x, y, s) => T(x, y, s, 9, {bold: true});
pk(165, 298, 'C=C'); pk(137, 338, 'C-C'); pk(137, 349, 'C-N'); pk(112, 388, 'C=O');
pk(411, 295, 'C=C'); pk(385, 342, 'C-C'); pk(385, 354, 'C-N'); pk(355, 405, 'C=O');
pk(668, 298, 'C=C'); pk(632, 308, 'C-C'); pk(632, 320, 'C-N'); pk(613, 380, 'C-O'); pk(590, 402, 'C=O');
// D labels
pk(160, 479, 'C=O'); T(154, 493, 'SO', 9.5, {bold: true, align: 'left'}); T(166.5, 496, '4', 7, {bold: true, align: 'left'}); T(170.5, 487.5, '2-', 6.5, {bold: true, align: 'left'});
pk(128, 551, 'C-O');
pk(404, 477, 'C=O'); T(393.5, 492, 'SO', 9.5, {bold: true, align: 'left'}); T(406, 495, '4', 7, {bold: true, align: 'left'}); T(410, 486.5, '2-', 6.5, {bold: true, align: 'left'});
pk(365, 577, 'C-O');
pk(638, 482, 'C=O'); T(628, 494.5, 'SO', 9.5, {bold: true, align: 'left'}); T(640.5, 497.5, '4', 7, {bold: true, align: 'left'}); T(644.5, 489, '2-', 6.5, {bold: true, align: 'left'});
pk(600, 577, 'C-O');
// E labels
pk(153, 679, 'C-N-C'); pk(404, 677, 'C-N-C'); pk(655, 688, 'C-N-C');

// ================= CHART =================
const chart = echarts.init(document.getElementById('c'), null, {renderer: 'canvas', width: 739, height: 850});
chart.setOption({
  animation: false,
  backgroundColor: '#fff',
  textStyle: {fontFamily: FONT},
  grid: grids, xAxis: xAxes, yAxis: yAxes, series: series,
  legend: {data: ['CD(250)', 'CD(300)', 'CD(350)', 'CD(400)'], orient: 'vertical', left: 292, top: 6,
    itemWidth: 18, itemHeight: 2, itemGap: 0, icon: 'rect', selectedMode: false,
    textStyle: {fontSize: 10.5, color: '#111', fontFamily: FONT, lineHeight: 10.5, padding: [0, 0, 0, -2]}},
  graphic: {elements: G}
});
</script></body></html>
